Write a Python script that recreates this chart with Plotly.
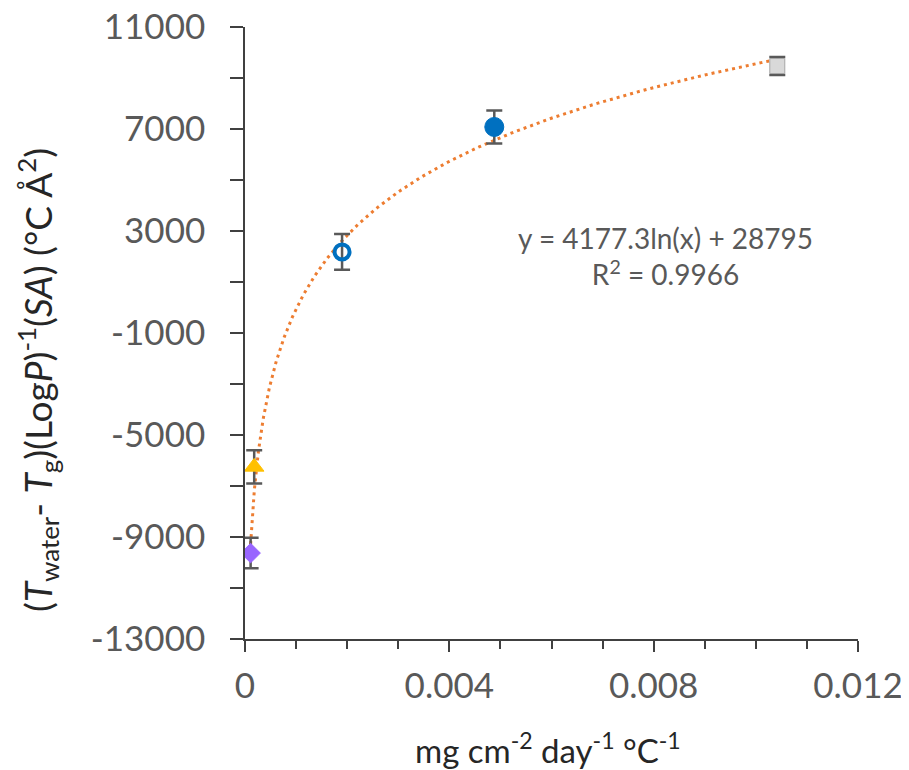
import numpy as np
import plotly.graph_objects as go

# ---- data ----
names = ["diamond", "triangle", "open circle", "filled circle", "square"]
x_vals = [0.00011, 0.00018, 0.0019, 0.00488, 0.01042]
y_vals = [-9630, -6250, 2180, 7080, 9470]
y_err = [600, 650, 700, 650, 350]
symbols = ["diamond", "triangle-up", "circle-open", "circle", "square"]
colors = ["#9966FF", "#FFC000", "#0070C0", "#0070C0", "#D9D9D9"]
line_colors = ["#9966FF", "#FFC000", "#0070C0", "#0070C0", "#A6A6A6"]
sizes = [15, 17, 15, 19, 15]

# trendline coefficients shown on the chart: y = a ln(x) + b
fit_a = 4177.3
fit_b = 28795
eq_text = "y = 4177.3ln(x) + 28795"
r2_text = "R<sup>2</sup> = 0.9966"

x_ticks = [0, 0.004, 0.008, 0.012]
x_tick_text = ["0", "0.004", "0.008", "0.012"]
y_ticks = [11000, 7000, 3000, -1000, -5000, -9000, -13000]
y_tick_text = ["11000", "7000", "3000", "-1000", "-5000", "-9000", "-13000"]

GREY = "#595959"
AXIS = "#404040"
FONT = "Lato"

fig = go.Figure()

# trendline
tx = np.geomspace(min(x_vals), max(x_vals), 300)
ty = fit_a * np.log(tx) + fit_b
fig.add_trace(go.Scatter(
    x=tx, y=ty, mode="lines",
    line=dict(color="#ED7D31", width=3, dash="3px,4px"),
    hoverinfo="skip", showlegend=False))

for i in range(len(x_vals)):
    marker = dict(symbol=symbols[i], size=sizes[i], color=colors[i],
                  line=dict(color=line_colors[i], width=1))
    if symbols[i] == "circle-open":
        marker["line"] = dict(color=colors[i], width=4)
    fig.add_trace(go.Scatter(
        x=[x_vals[i]], y=[y_vals[i]], mode="markers", name=names[i],
        marker=marker,
        error_y=dict(type="data", array=[y_err[i]], color=GREY,
                     thickness=2.5, width=8),
        showlegend=False))

# page body adds an 8px offset, so the figure is drawn 8px smaller
fig.update_layout(
    width=901, height=762,
    margin=dict(l=237, r=51, t=19, b=131),
    paper_bgcolor="white", plot_bgcolor="white",
    font=dict(family=FONT, color=GREY),
    xaxis=dict(
        range=[0, 0.012], tickvals=x_ticks, ticktext=x_tick_text,
        ticks="outside", ticklen=11, tickwidth=1.5, tickcolor=AXIS,
        minor=dict(dtick=0.001, ticks="outside", ticklen=8, tickwidth=1.5,
                   tickcolor=AXIS, showgrid=False),
        showline=True, linecolor=AXIS, linewidth=1.5,
        showgrid=False, zeroline=False, automargin=False,
        ticklabeloverflow="allow",
        tickfont=dict(size=35, color=GREY, family=FONT),
        ticklabelstandoff=4),
    yaxis=dict(
        range=[-13000, 11000], tickvals=y_ticks, ticktext=y_tick_text,
        ticks="outside", ticklen=13, tickwidth=1.5, tickcolor=AXIS,
        minor=dict(tick0=-13000, dtick=2000, ticks="outside", ticklen=13,
                   tickwidth=1.5, tickcolor=AXIS, showgrid=False),
        showline=True, linecolor=AXIS, linewidth=1.5,
        showgrid=False, zeroline=False, automargin=False,
        ticklabeloverflow="allow",
        tickfont=dict(size=35, color=GREY, family=FONT),
        ticklabelstandoff=18),
)

fig.add_annotation(
    text=eq_text + "<br>" + r2_text, xref="paper", yref="paper",
    x=(665 - 245) / 613, y=(639 - 256) / 612, showarrow=False,
    xanchor="center", yanchor="middle",
    font=dict(size=28, color=GREY, family=FONT), align="center")

fig.add_annotation(
    text="mg cm<sup>-2</sup> day<sup>-1</sup> °C<sup>-1</sup>",
    xref="paper", yref="paper", x=(548 - 245) / 613, y=(639 - 748) / 612,
    xanchor="center", yanchor="middle",
    showarrow=False, font=dict(size=33, color="#262626", family=FONT))

fig.add_annotation(
    text="(<i>T</i><sub>water</sub>- <i>T</i><sub>g</sub>)(Log<i>P</i>)<sup>-1</sup>(<i>SA</i>) (°C Å<sup>2</sup>)",
    xref="paper", yref="paper", x=(38 - 245) / 613, y=(639 - 380) / 612,
    xanchor="center", yanchor="middle",
    textangle=-90, showarrow=False,
    font=dict(size=37, color="#262626", family=FONT))

fig.write_html("out.html")
